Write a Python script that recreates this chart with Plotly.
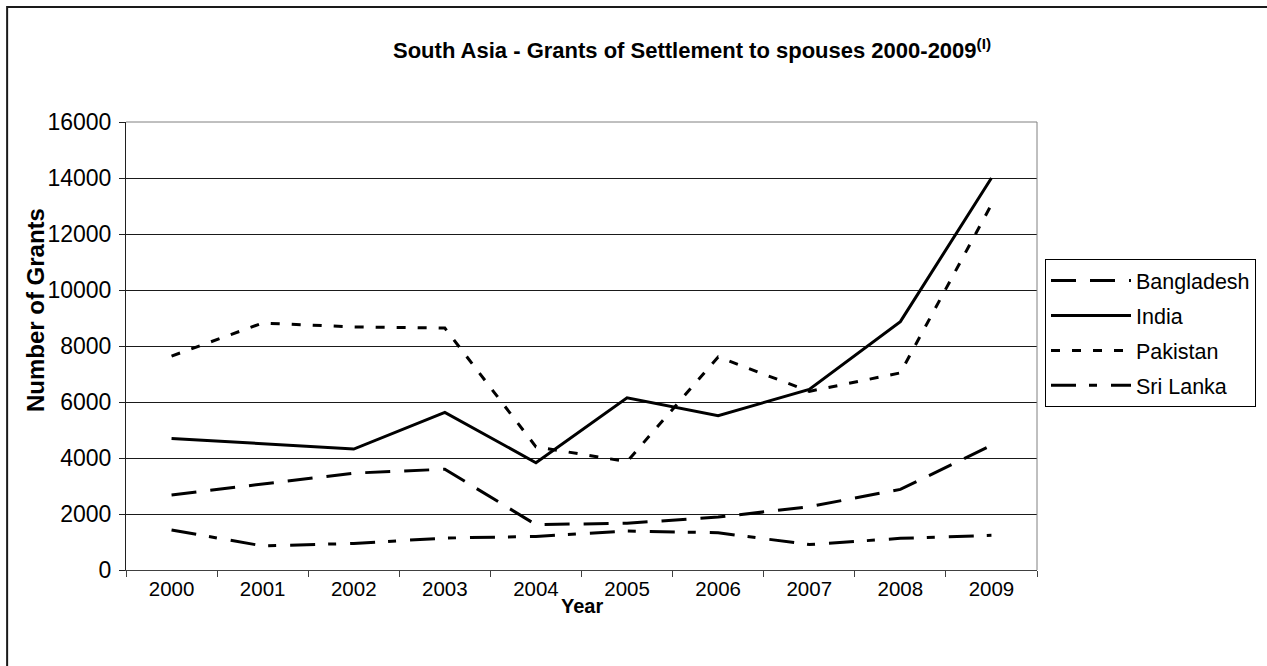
import plotly.graph_objects as go

# Grants of settlement to spouses, by country of nationality
years = ["2000", "2001", "2002", "2003", "2004", "2005", "2006", "2007", "2008", "2009"]
bangladesh = [2680, 3070, 3460, 3600, 1620, 1670, 1890, 2260, 2880, 4450]
india = [4700, 4510, 4320, 5630, 3830, 6150, 5510, 6450, 8870, 14000]
pakistan = [7640, 8820, 8680, 8640, 4400, 3870, 7610, 6380, 7040, 13050]
sri_lanka = [1430, 860, 950, 1140, 1200, 1390, 1330, 910, 1130, 1240]

y_ticks = [0, 2000, 4000, 6000, 8000, 10000, 12000, 14000, 16000]

FONT = "Liberation Sans, Arial, sans-serif"
W, H = 1267, 666
L, R, T, B = 126, 229, 122, 96
PW, PH = W - L - R, H - T - B


def px_x(px):
    return (px - L) / PW


def px_y(py):
    return (H - B - py) / PH


series = [
    ("Bangladesh", bangladesh, "25px,14px"),
    ("India", india, "solid"),
    ("Pakistan", pakistan, "9px,12px"),
    ("Sri Lanka", sri_lanka, "25px,13px,8px,14px"),
]

fig = go.Figure()
for name, vals, dash in series:
    fig.add_trace(go.Scatter(
        x=years, y=vals, name=name, mode="lines",
        legendgroup=name,
        line=dict(color="black", width=3, dash=dash),
    ))

fig.update_layout(
    width=W, height=H,
    margin=dict(l=L, r=R, t=T, b=B),
    paper_bgcolor="white", plot_bgcolor="white",
    font=dict(family=FONT, size=20, color="black"),
    showlegend=True,
    legend=dict(
        x=px_x(1045), y=px_y(259), xanchor="left", yanchor="top",
        bordercolor="black", borderwidth=1, bgcolor="white",
        font=dict(family=FONT, size=21.5, color="black"),
        tracegroupgap=4, itemwidth=80,
    ),
    xaxis=dict(
        type="category", range=[-0.5, 9.5],
        showgrid=False, showline=True, linecolor="#404040", linewidth=1,
        ticks="outside", tickson="boundaries", ticklen=6, tickcolor="#404040",
        tickfont=dict(family=FONT, size=20.5, color="black"),
        zeroline=False,
    ),
    yaxis=dict(
        range=[0, 16000], tickvals=y_ticks, ticktext=[str(v) for v in y_ticks],
        showgrid=True, gridcolor="#1a1a1a", gridwidth=1,
        showline=True, linecolor="#202020", linewidth=1,
        ticks="outside", ticklen=6, tickcolor="#202020",
        ticklabelstandoff=3,
        tickfont=dict(family=FONT, size=23, color="black"),
        zeroline=False,
    ),
    shapes=[
        # plot-area frame on the top and right
        dict(type="path", xref="paper", yref="paper",
             path="M0,1 L1,1 L1,0", line=dict(color="#808080", width=1)),
        # outer chart border
        dict(type="rect", xref="paper", yref="paper",
             x0=px_x(7), y0=px_y(680), x1=px_x(1280), y1=px_y(7),
             line=dict(color="#1a1a1a", width=2)),
    ],
    annotations=[
        dict(text="<b>South Asia - Grants of Settlement to spouses 2000-2009<sup>(I)</sup></b>",
             xref="paper", yref="paper", x=px_x(693), y=px_y(49),
             xanchor="center", yanchor="middle", showarrow=False,
             font=dict(family=FONT, size=22, color="black")),
        dict(text="<b>Number of Grants</b>", textangle=-90,
             xref="paper", yref="paper", x=px_x(35), y=px_y(310),
             xanchor="center", yanchor="middle", showarrow=False,
             font=dict(family=FONT, size=24, color="black")),
        dict(text="<b>Year</b>",
             xref="paper", yref="paper", x=0.5, y=px_y(606),
             xanchor="center", yanchor="middle", showarrow=False,
             font=dict(family=FONT, size=20, color="black")),
    ],
)

fig.write_html("out.html")
